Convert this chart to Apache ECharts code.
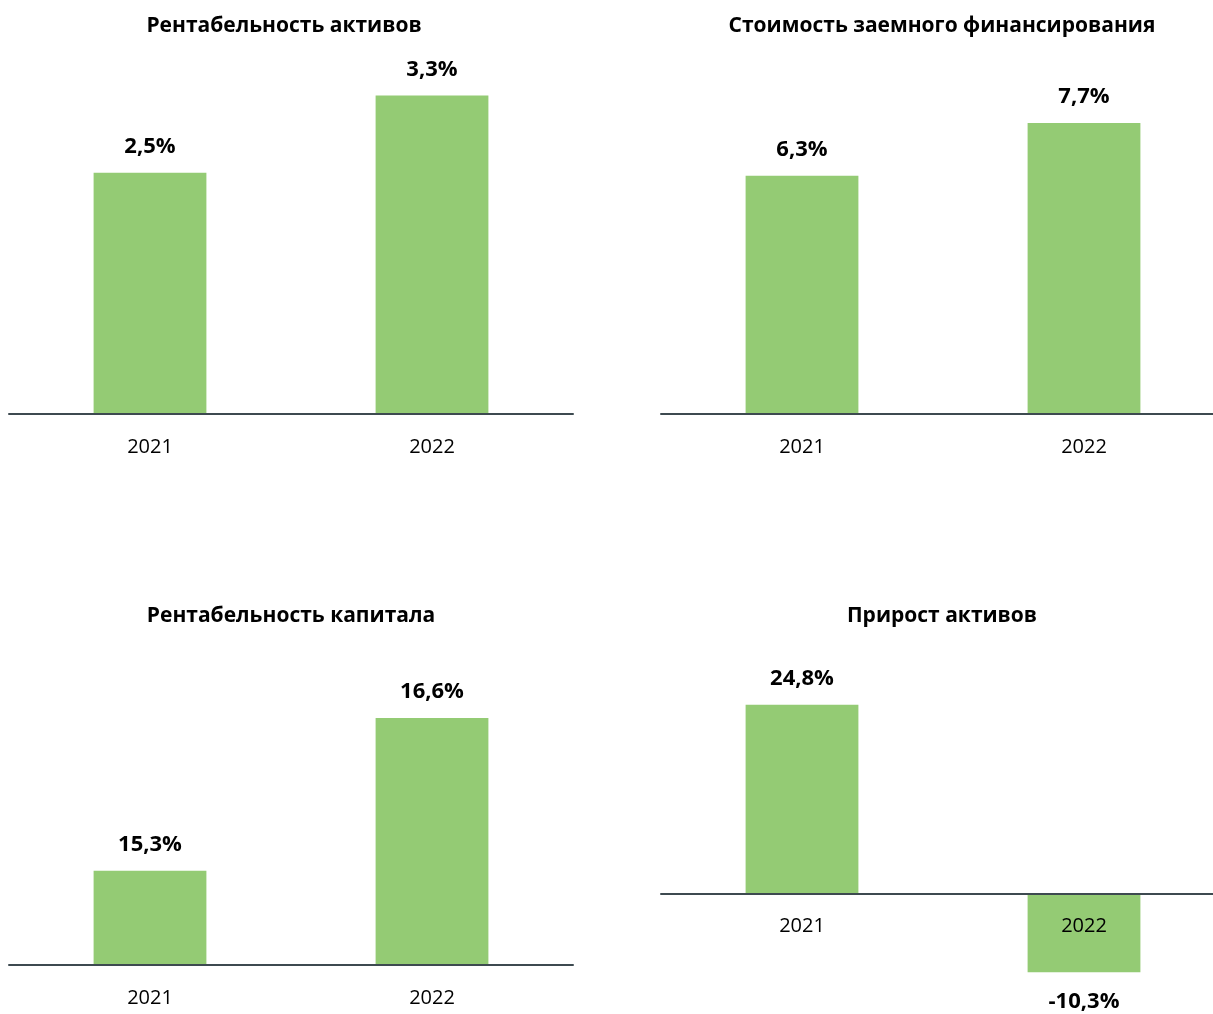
<!DOCTYPE html>
<html>
<head>
<meta charset="utf-8">
<script src="https://cdn.jsdelivr.net/npm/echarts@6/dist/echarts.min.js"></script>
<style>
html,body{margin:0;padding:0;background:#fff;overflow:hidden;}
#chart{width:1240px;height:1014px;}
</style>
</head>
<body>
<div id="chart"></div>
<script>
const categories = ['2021', '2022'];
const titles = ['Рентабельность активов', 'Стоимость заемного финансирования', 'Рентабельность капитала', 'Прирост активов'];
const roaValues = [2.5, 3.3];
const debtCostValues = [6.3, 7.7];
const roeValues = [15.3, 16.6];
const assetGrowthValues = [24.8, -10.3];

const FONT = '"Open Sans", "Noto Sans", sans-serif';
const BAR_COLOR = '#94CB74';
const AXIS_COLOR = '#3D4A50';

const panels = [
  {data: roaValues, grid: {left: 9, width: 564, top: 28, height: 386}, min: 0, max: 4, title: {x: 284, y: 16}},
  {data: debtCostValues, grid: {left: 661, width: 564, top: 36, height: 378}, min: 0, max: 10, title: {x: 942, y: 16}},
  {data: roeValues, grid: {left: 9, width: 564, top: 612, height: 353}, min: 14.5, max: 17.5, title: {x: 291, y: 606}},
  {data: assetGrowthValues, grid: {left: 661, width: 564, top: 665, height: 343}, min: -15, max: 30, title: {x: 942, y: 606}}
];

// axis sits at the value 0 line when the range crosses zero, otherwise at the grid bottom
function axisOffset(p) {
  if (p.min >= 0) return 0;
  const zeroY = p.grid.top + p.grid.height * p.max / (p.max - p.min);
  return -((p.grid.top + p.grid.height) - zeroY);
}

const fmt = v => v.toFixed(1).replace('.', ',') + '%';

const option = {
  animation: false,
  backgroundColor: '#ffffff',
  title: panels.map((p, i) => ({
    text: titles[i],
    left: p.title.x,
    top: p.title.y,
    textAlign: 'center',
    padding: 0,
    textStyle: {fontFamily: FONT, fontSize: 21, fontWeight: 'bold', color: '#000'}
  })),
  grid: panels.map(p => Object.assign({containLabel: false, outerBoundsMode: 'none'}, p.grid)),
  xAxis: panels.map((p, i) => ({
    type: 'category',
    gridIndex: i,
    data: categories,
    z: 10,
    position: 'bottom',
    offset: axisOffset(p),
    axisLine: {show: true, onZero: false, lineStyle: {color: AXIS_COLOR, width: 2}},
    axisTick: {show: false},
    axisLabel: {fontFamily: FONT, fontSize: 20, color: '#000', margin: 23},
    splitLine: {show: false}
  })),
  yAxis: panels.map((p, i) => ({
    type: 'value',
    gridIndex: i,
    min: p.min,
    max: p.max,
    show: false,
    splitLine: {show: false}
  })),
  series: panels.map((p, i) => ({
    type: 'bar',
    xAxisIndex: i,
    yAxisIndex: i,
    barWidth: '40%',
    itemStyle: {color: BAR_COLOR},
    data: p.data.map(v => ({
      value: v,
      label: {
        show: true,
        position: v < 0 ? 'bottom' : 'top',
        distance: v < 0 ? 19 : 15,
        formatter: o => fmt(o.value),
        fontFamily: FONT,
        fontSize: 22,
        fontWeight: 'bold',
        color: '#000'
      }
    }))
  }))
};

const chart = echarts.init(document.getElementById('chart'), null, {renderer: 'canvas'});
chart.setOption(option);
</script>
</body>
</html>
